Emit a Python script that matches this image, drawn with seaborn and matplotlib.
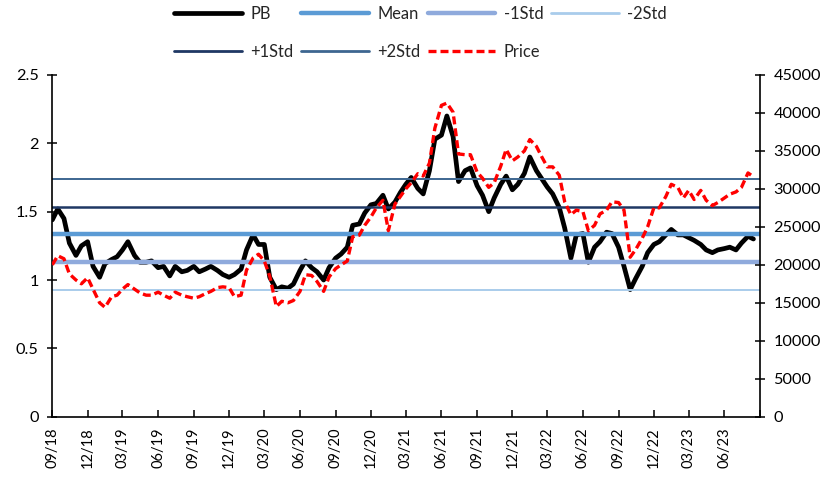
import numpy as np
import pandas as pd
import matplotlib
matplotlib.use("Agg")
import matplotlib.pyplot as plt
import seaborn as sns
from matplotlib.lines import Line2D

# ---------------- data ----------------
dates = pd.date_range("2018-09-01", periods=120, freq="SMS")

pb = [1.44, 1.52, 1.45, 1.27, 1.18, 1.25, 1.28, 1.10, 1.02, 1.12,
      1.15, 1.17, 1.22, 1.28, 1.18, 1.13, 1.13, 1.14, 1.09, 1.10,
      1.03, 1.10, 1.06, 1.07, 1.10, 1.06, 1.08, 1.10, 1.07, 1.04,
      1.02, 1.04, 1.08, 1.22, 1.33, 1.26, 1.26, 1.02, 0.93, 0.95,
      0.94, 0.97, 1.07, 1.14, 1.09, 1.06, 1.00, 1.09, 1.16, 1.19,
      1.24, 1.40, 1.41, 1.49, 1.55, 1.56, 1.62, 1.52, 1.57, 1.64,
      1.70, 1.75, 1.67, 1.63, 1.80, 2.03, 2.06, 2.20, 2.05, 1.72,
      1.80, 1.82, 1.69, 1.62, 1.50, 1.60, 1.70, 1.76, 1.66, 1.70,
      1.78, 1.90, 1.80, 1.74, 1.68, 1.63, 1.53, 1.38, 1.16, 1.33,
      1.34, 1.13, 1.24, 1.28, 1.35, 1.34, 1.24, 1.10, 0.93, 1.01,
      1.10, 1.20, 1.26, 1.28, 1.33, 1.37, 1.33, 1.33, 1.31, 1.29,
      1.26, 1.22, 1.20, 1.22, 1.23, 1.24, 1.22, 1.27, 1.32, 1.30]

price = [20000, 21200, 20800, 18800, 18000, 17500, 18300, 16800, 15000, 14400,
         15800, 16000, 16800, 17400, 16800, 16300, 16000, 16000, 16400, 16000,
         15600, 16400, 16000, 15800, 15600, 15800, 16200, 16500, 17000, 17100,
         17000, 15800, 16000, 19300, 20900, 21400, 20500, 18500, 14500, 15200,
         15000, 15300, 16500, 18700, 18600, 17800, 16500, 18400, 19500, 20000,
         20500, 23700, 23900, 25200, 26300, 27500, 28500, 24500, 28000, 29000,
         30000, 30800, 32000, 31700, 33400, 38000, 41000, 41300, 40100, 34600,
         34500, 34500, 32200, 31400, 30200, 30800, 33000, 35200, 33700, 34200,
         35000, 36500, 35600, 34200, 32900, 32900, 31800, 28300, 26600, 27200,
         27000, 24500, 25200, 26700, 27200, 28300, 28200, 27200, 21000, 22000,
         23500, 25000, 27500, 27500, 29000, 30600, 30200, 28800, 29800, 28600,
         29800, 28500, 27800, 28200, 28800, 29300, 29600, 30200, 32100, 31600]

band_labels = ["Mean", "-1Std", "-2Std", "+1Std", "+2Std"]
band_values = [1.333, 1.131, 0.928, 1.535, 1.737]

left_ticks = [0, 0.5, 1, 1.5, 2, 2.5]
left_labels = ["0", "0.5", "1", "1.5", "2", "2.5"]
right_ticks = [0, 5000, 10000, 15000, 20000, 25000, 30000, 35000, 40000, 45000]
x_ticks = pd.date_range("2018-09-01", "2023-09-01", freq="QS-DEC")
x_labels = [d.strftime("%m/%y") for d in x_ticks[:-1]] + [""]

# ---------------- style ----------------
band_colors = ["#5B9BD5", "#8FAADC", "#A9CCEB", "#1F3864", "#3D6690"]
band_widths = [3.2, 3.2, 1.4, 1.8, 1.4]

sns.set_theme(style="white")
plt.rcParams["font.family"] = ["Lato", "DejaVu Sans"]

df = pd.DataFrame({"date": dates, "PB": pb, "Price": price})

fig = plt.figure(figsize=(8.4, 4.8), dpi=100)
ax = fig.add_axes([0.0623, 0.1319, 0.8425, 0.7119])
ax2 = ax.twinx()

sns.lineplot(data=df, x="date", y="PB", ax=ax, color="black", lw=3.4,
             legend=False)
for v, c, w in zip(band_values, band_colors, band_widths):
    ax.axhline(v, color=c, lw=w)

sns.lineplot(data=df, x="date", y="Price", ax=ax2, color="#FF0000", lw=2.4,
             legend=False)
price_line = ax2.lines[-1]
price_line.set_linestyle((0, (2.4, 1.2)))

ax.set_xlim(x_ticks[0], x_ticks[-1])
ax.set_ylim(0, 2.5)
ax2.set_ylim(0, 45000)

ax.set_xticks(x_ticks)
ax.set_xticklabels(x_labels, rotation=90, fontsize=10.5)
ax.set_yticks(left_ticks)
ax.set_yticklabels(left_labels, fontsize=11.7)
ax2.set_yticks(right_ticks)
ax2.set_yticklabels([str(t) for t in right_ticks], fontsize=11.7)

ax.set_xlabel("")
ax.set_ylabel("")
ax2.set_ylabel("")
ax.grid(False)
ax2.grid(False)

for a in (ax, ax2):
    for s in a.spines.values():
        s.set_color("black")
        s.set_linewidth(1.2)
    a.spines["top"].set_visible(False)
ax.spines["right"].set_visible(False)
ax2.spines["left"].set_visible(False)
ax2.spines["bottom"].set_visible(False)

ax.tick_params(axis="y", direction="inout", length=7.5, width=1.1, pad=6,
               colors="black", left=True)
ax.tick_params(axis="x", direction="in", length=5, width=1.1, pad=8,
               colors="black", bottom=True)
ax2.tick_params(axis="y", direction="inout", length=7.5, width=1.1, pad=6,
                colors="black", right=True)

# legend (column-major order to get row layout)
handles = {
    "PB": Line2D([], [], color="black", lw=3.4),
    "Price": Line2D([], [], color="#FF0000", lw=2.4, linestyle=(0, (2.4, 1.2))),
}
for l, c, w in zip(band_labels, band_colors, band_widths):
    handles[l] = Line2D([], [], color=c, lw=max(w, 2.0))
order = ["PB", "+1Std", "Mean", "+2Std", "-1Std", "Price", "-2Std"]
fig.legend([handles[k] for k in order], order, ncol=4, loc="upper left",
           bbox_to_anchor=(0.190, 1.018), frameon=False, fontsize=11.9,
           handlelength=4.1, handletextpad=0.5, columnspacing=0.45,
           labelspacing=1.3)

fig.savefig("out.png", dpi=100)
